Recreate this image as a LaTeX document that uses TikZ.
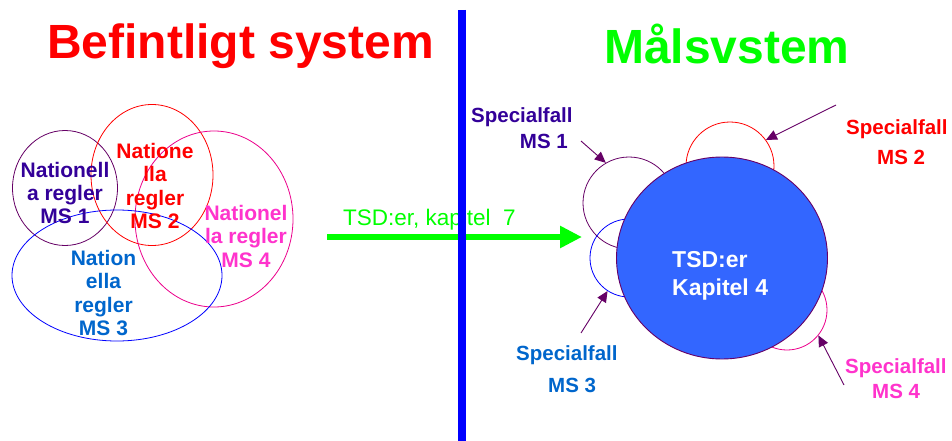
\documentclass[tikz,border=0pt]{standalone}
\usepackage{fontspec}
\setmainfont{Liberation Sans}
\usetikzlibrary{shapes.geometric,arrows.meta}
\definecolor{plum}{HTML}{660066}
\definecolor{indigo}{HTML}{330099}
\definecolor{azure}{HTML}{0066CC}
\definecolor{pinkm}{HTML}{FF33CC}
\definecolor{bigfill}{HTML}{3366FF}
\definecolor{lgreen}{HTML}{00FF00}
\begin{document}
\begin{tikzpicture}[x=1pt,y=-1pt,
  title/.style={font=\fontsize{48}{52}\selectfont\bfseries, inner sep=0pt, anchor=base west},
  lbl/.style={font=\fontsize{21}{24}\selectfont\bfseries, inner sep=0pt, anchor=base},
  spec/.style={font=\fontsize{20.5}{24}\selectfont\bfseries, inner sep=0pt, anchor=base west},
  ring/.style={ellipse, draw, line width=0.8pt, inner sep=0pt},
  pointer/.style={draw=plum, line width=0.9pt, -{Triangle[length=11pt,width=10pt]}, plum}
]
\useasboundingbox (0,0) rectangle (952,441);
\fill[white] (0,0) rectangle (952,441);

% titles
\node[title, text=red] (t1) at (47,59) {Befintligt system};
\node[title, text=lgreen] (t2) at (604,64) {Målsvstem};

% left: existing system
\node[ring, draw=plum, minimum width=105pt, minimum height=115pt] (e1) at (65,188) {};
\node[ring, draw=red, minimum width=122pt, minimum height=141pt] (e2) at (152,175) {};
\node[ring, draw=magenta, minimum width=158pt, minimum height=176pt] (e4) at (214,219) {};
\node[ring, draw=blue, minimum width=210pt, minimum height=131pt] (e3) at (117,275.5) {};

\node[lbl, text=indigo] (a1) at (65,177) {Nationell};
\node[lbl, text=indigo] (a2) at (65,200) {a regler};
\node[lbl, text=indigo] (a3) at (65,223) {MS 1};

\node[lbl, text=red] (b1) at (155,158) {Natione};
\node[lbl, text=red] (b2) at (155,181.5) {lla};
\node[lbl, text=red] (b3) at (155,205) {regler};
\node[lbl, text=red] (b4) at (155,228) {MS 2};

\node[lbl, text=pinkm] (d1) at (246,220) {Nationel};
\node[lbl, text=pinkm] (d2) at (246,243) {la regler};
\node[lbl, text=pinkm] (d3) at (246,267) {MS 4};

\node[lbl, text=azure] (c1) at (103.5,265) {Nation};
\node[lbl, text=azure] (c2) at (103.5,288) {ella};
\node[lbl, text=azure] (c3) at (103.5,312) {regler};
\node[lbl, text=azure] (c4) at (103.5,335) {MS 3};

% green arrow
\coordinate (ga) at (327,237);
\coordinate (gb) at (582,237);
\draw[lgreen, line width=6pt, -{Triangle[length=22pt,width=21pt]}] (ga) -- (gb);
\node[inner sep=0pt, anchor=base west, text=lgreen, font=\fontsize{22.5}{26}\selectfont] (gl) at (343,225) {TSD:er, kapitel\ \ 7};

% divider
\coordinate (va) at (462,10);
\coordinate (vb) at (462,441);
\draw[blue, line width=8pt] (va) -- (vb);

% right: target system
\node[ring, draw=plum, minimum width=92pt, minimum height=92pt] (s1) at (629,203) {};
\node[ring, draw=red, minimum width=88pt, minimum height=88pt] (s2) at (730,166) {};
\node[ring, draw=blue, minimum width=78pt, minimum height=78pt] (s3) at (629,258) {};
\node[ring, draw=magenta, minimum width=80pt, minimum height=80pt] (s4) at (787,310) {};
\node[ellipse, draw=plum, fill=bigfill, line width=0.9pt, inner sep=0pt, minimum width=211pt, minimum height=202pt] (big) at (722,258) {};
\node[inner sep=0pt, anchor=base west, text=white, font=\fontsize{23}{27}\selectfont\bfseries] (k1) at (672,267) {TSD:er};
\node[inner sep=0pt, anchor=base west, text=white, font=\fontsize{23}{27}\selectfont\bfseries] (k2) at (672,295) {Kapitel 4};

% special-case labels
\node[spec, text=indigo] (p1a) at (471,122) {Specialfall};
\node[spec, text=indigo, anchor=base east] (p1b) at (568,148) {MS 1};
\node[spec, text=red] (p2a) at (846,134) {Specialfall};
\node[spec, text=red] (p2b) at (877,164) {MS 2};
\node[spec, text=azure] (p3a) at (516,360) {Specialfall};
\node[spec, text=azure] (p3b) at (548,392) {MS 3};
\node[spec, text=pinkm] (p4a) at (845,373) {Specialfall};
\node[spec, text=pinkm] (p4b) at (872,398) {MS 4};

% pointers
\coordinate (q1) at (581,141);
\coordinate (q2) at (836,105);
\coordinate (q3) at (581,333);
\coordinate (q4) at (844,385);
\draw[pointer] (q1) -- (s1.120);
\draw[pointer] (q2) -- (s2.36);
\draw[pointer] (q3) -- (s3.237);
\draw[pointer] (q4) -- (s4.321);
\end{tikzpicture}
\end{document}
